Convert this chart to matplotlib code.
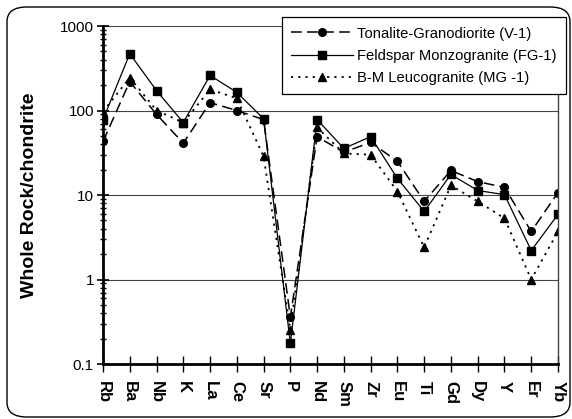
import matplotlib
matplotlib.use("Agg")
from matplotlib import pyplot as plt
from matplotlib.patches import FancyBboxPatch
from matplotlib.ticker import LogLocator, NullFormatter, FixedLocator, FixedFormatter
import numpy as np

plt.rcParams['font.family'] = ['Liberation Sans', 'DejaVu Sans']

# elements on the x axis
elements = ["Rb", "Ba", "Nb", "K", "La", "Ce", "Sr", "P", "Nd", "Sm",
            "Zr", "Eu", "Ti", "Gd", "Dy", "Y", "Er", "Yb"]

# normalised values
v1 = [43, 220, 90, 41, 124, 100, 78, 0.36, 49, 32, 42, 25, 8.4, 19.5, 14.4, 12.3, 3.7, 10.7]
fg1 = [78, 470, 172, 72, 260, 164, 80, 0.175, 78, 35.6, 49, 15.7, 6.4, 17.5, 11.3, 10.1, 2.2, 5.9]
mg1 = [97, 245, 100, 72, 178, 139, 28.6, 0.256, 63, 31, 30, 11, 2.4, 13, 8.4, 5.3, 1.0, 3.7]

fig = plt.figure(figsize=(5.72, 4.19), dpi=100)

# rounded frame round the whole chart
frame = FancyBboxPatch((7 / 572, 2 / 419), 563 / 572, 410 / 419,
                       boxstyle="round,pad=0,rounding_size=0.035",
                       transform=fig.transFigure, fill=False,
                       edgecolor="black", linewidth=1.0)
fig.patches.append(frame)

ax = fig.add_axes([103 / 572, 1 - 364 / 419, 455 / 572, 338 / 419])

x = np.arange(len(elements))
ax.plot(x, v1, color="black", linestyle=(0, (7, 3.5)), linewidth=1.1,
        marker="o", markersize=5.5, label="Tonalite-Granodiorite (V-1)")
ax.plot(x, fg1, color="black", linestyle="-", linewidth=0.9,
        marker="s", markersize=5.5, label="Feldspar Monzogranite (FG-1)")
ax.plot(x, mg1, color="black", linestyle=(0, (1.2, 2.8)), linewidth=1.3,
        marker="^", markersize=6, label="B-M Leucogranite (MG -1)")

ax.set_yscale("log")
ax.set_ylim(0.1, 1000)
ax.set_xlim(0, len(elements) - 1)

ax.yaxis.set_major_locator(FixedLocator([0.1, 1, 10, 100, 1000]))
ax.yaxis.set_major_formatter(FixedFormatter(["0.1", "1", "10", "100", "1000"]))
ax.yaxis.set_minor_locator(LogLocator(base=10, subs=np.arange(2, 10)))
ax.yaxis.set_minor_formatter(NullFormatter())

ax.set_xticks(x)
ax.set_xticklabels(elements, rotation=270, fontweight="bold", fontsize=12)

ax.grid(axis="y", which="major", color="#444444", linewidth=0.8)
ax.set_axisbelow(True)

ax.tick_params(axis="y", which="major", direction="inout", length=9, width=1.2,
               labelsize=11, pad=2)
ax.tick_params(axis="y", which="minor", direction="inout", length=5, width=1.0)
ax.tick_params(axis="x", which="major", direction="inout", length=12, width=1.0,
               pad=6)

ax.spines["left"].set_linewidth(2)
ax.spines["bottom"].set_linewidth(2)
ax.spines["top"].set_visible(False)
ax.spines["right"].set_color("#444444")
ax.spines["right"].set_linewidth(1.0)

ax.set_ylabel("Whole Rock/chondrite", fontweight="bold", fontsize=14, labelpad=16)

leg = ax.legend(loc="upper right", bbox_to_anchor=(566 / 572, 1 - 17 / 419),
                bbox_transform=fig.transFigure, fontsize=10.6, frameon=True,
                fancybox=False, edgecolor="black", framealpha=1,
                handlelength=4.2, borderpad=0.65, labelspacing=0.55,
                handletextpad=0.25, borderaxespad=0)
leg.get_frame().set_linewidth(0.9)

plt.savefig("out.png", dpi=100)
